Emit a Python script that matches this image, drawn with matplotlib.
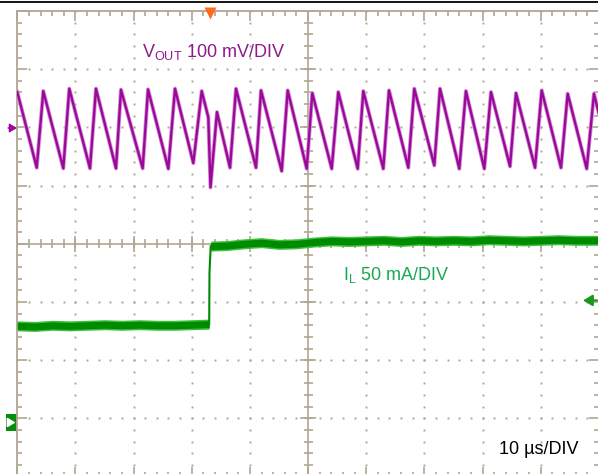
import numpy as np
import matplotlib
matplotlib.use("Agg")
import matplotlib.pyplot as plt
from matplotlib.lines import Line2D
from matplotlib.patches import Rectangle

# scope screen: 10 us/div horizontally, 8 divisions vertically
time_us = (0, 100)
divs = (-4, 4)

# channel 1: VOUT (AC), 100 mV/div, marker 2 div above centre
vout_scale_mv = 100
vout_offset_div = 2.0
vout_t = [0.0, 3.34, 4.47, 7.91, 8.94, 12.50, 13.53, 16.97, 17.83, 21.56,
          22.48, 25.97, 27.12, 30.27, 31.71, 32.85, 33.22, 34.34, 36.58, 37.61,
          41.05, 41.91, 45.47, 46.50, 49.77, 50.73, 54.07, 55.20, 58.54, 59.50,
          62.94, 63.92, 67.24, 68.27, 71.71, 72.69, 76.01, 77.15, 80.31, 81.46,
          84.73, 85.76, 89.03, 90.18, 93.50, 94.65, 97.92, 99.17, 100.0]
vout_mv = [60.7, -69.2, 62.4, -70.4, 66.5, -70.4, 66.5, -70.4, 64.8, -70.4,
           65.3, -71.0, 66.5, -61.3, 62.4, 17.2, -103.1, 26.3, -69.2, 66.5,
           -69.2, 63.6, -75.1, 63.6, -71.0, 58.9, -71.0, 60.7, -71.0, 62.4,
           -71.0, 63.6, -69.2, 66.5, -65.3, 66.5, -71.0, 62.4, -71.0, 60.7,
           -67.0, 58.9, -69.2, 63.6, -69.2, 57.9, -71.0, 57.9, 24.0]

# channel 2: inductor current, 50 mA/div
il_scale_ma = 50
il_offset_div = -3.08
il_t_before = [0, 3, 6, 9, 12, 15, 18, 21, 24, 27, 30, 33.0]
il_ma_before = [83.5, 83, 84, 83.5, 84, 84.5, 84, 84.5, 84, 84, 84.5, 85]
il_t_step = [33.0, 33.05, 33.26]
il_ma_step = [85, 129.5, 152]
il_t_after = [33.26, 36, 39, 42, 45, 48, 51, 54, 57, 60, 63, 66, 69, 72, 75,
              78, 81, 84, 87, 90, 93, 96, 100]
il_ma_after = [152, 152.5, 154, 155, 153.5, 154, 155.5, 156.5, 156, 156.5, 157,
               156, 157, 156.5, 157, 156.5, 157.5, 157, 156.5, 157, 157.5, 157, 157]

trigger_t = 33.2
il_trigger_ma = 105

vout_label = r"V$_{\mathregular{OUT}}$ 100 mV/DIV"
il_label = r"I$_{\mathregular{L}}$ 50 mA/DIV"
time_label = "10 \u00b5s/DIV"

W, H = 598, 474
GRID = "#b0a792"
PURPLE = "#990a99"
GREEN = "#008a00"

plt.rcParams["font.family"] = ["Liberation Sans", "DejaVu Sans"]
fig = plt.figure(figsize=(W / 100, H / 100), dpi=100)

left, right, top, bottom = 17.3, 598.8, 11.0, 476.6
ax = fig.add_axes([left / W, 1 - bottom / H, (right - left) / W, (bottom - top) / H])
ax.set_xlim(*time_us)
ax.set_ylim(*divs)
ax.set_facecolor("white")

for s in ax.spines.values():
    s.set_color(GRID)
    s.set_linewidth(1.3)
ax.set_xticks(np.arange(0, 101, 10))
ax.set_xticks(np.arange(0, 101, 2), minor=True)
ax.set_yticks(np.arange(-4, 4.01, 1))
ax.set_yticks(np.arange(-4, 4.01, 0.2), minor=True)
ax.tick_params(which="both", direction="in", top=True, right=True, color=GRID,
               labelleft=False, labelbottom=False, width=1.2)
ax.tick_params(which="major", length=7.5)
ax.tick_params(which="minor", length=3.8)

# dotted graticule
minor_x = np.arange(0, 101, 2)
minor_y = np.arange(-4, 4.01, 0.2)
for gx in range(10, 100, 10):
    if gx != 50:
        ax.plot(np.full_like(minor_y, gx), minor_y, ls="none", marker="s",
                ms=1.4, mec="none", color=GRID, zorder=1)
for gy in range(-3, 4):
    if gy != 0:
        ax.plot(minor_x, np.full_like(minor_x, gy, dtype=float), ls="none", marker="s",
                ms=1.4, mec="none", color=GRID, zorder=1)

# centre cross with ticks
ax.axhline(0, color=GRID, lw=1.2, zorder=1)
ax.axvline(50, color=GRID, lw=1.2, zorder=1)
px_x = 10 / 58.15   # us per pixel
px_y = 1 / 58.2     # div per pixel
ax.vlines(minor_x, -4.5 * px_y, 4.5 * px_y, color=GRID, lw=1.2, zorder=1)
ax.vlines(np.arange(0, 101, 10), -8 * px_y, 8 * px_y, color=GRID, lw=1.2, zorder=1)
ax.hlines(minor_y, 50 - 4.5 * px_x, 50 + 4.5 * px_x, color=GRID, lw=1.2, zorder=1)
ax.hlines(np.arange(-4, 5, 1), 50 - 8 * px_x, 50 + 8 * px_x, color=GRID, lw=1.2, zorder=1)

# VOUT trace
vy = vout_offset_div + np.array(vout_mv) / vout_scale_mv
ax.plot(vout_t, vy, color="#d890d8", lw=2.9, zorder=3)
ax.plot(vout_t, vy, color=PURPLE, lw=1.7, zorder=4)

# IL trace
def il_div(vals):
    return il_offset_div + np.array(vals) / il_scale_ma

for tt, vv in ((il_t_before, il_ma_before), (il_t_after, il_ma_after)):
    y = il_div(vv)
    ax.fill_between(tt, y - 5 * px_y, y + 5 * px_y, color="#3cc03c", lw=0, zorder=3)
    ax.fill_between(tt, y - 3.5 * px_y, y + 3.5 * px_y, color=GREEN, lw=0, zorder=4)
ax.plot(il_t_step, il_div(il_ma_step), color=GREEN, lw=1.5, zorder=4)

# markers around the screen
def fpt(x, y):
    return (x / W, 1 - y / H)

def arrow(x0, x1, y, color, lw, size):
    ax.annotate("", xy=fpt(x1, y), xytext=fpt(x0, y), xycoords="figure fraction",
                arrowprops=dict(arrowstyle="-|>,head_length=0.5,head_width=0.3",
                                color=color, lw=lw, mutation_scale=size,
                                shrinkA=0, shrinkB=0), zorder=10)

fig.add_artist(Line2D([0, 1], [1 - 1.5 / H] * 2, color="black", lw=1.3))
tx = left + trigger_t / px_x
fig.add_artist(Line2D([fpt(tx, 0)[0]], [fpt(0, 12.5)[1]], marker="v", ms=8.5,
                      color="#ff6a1e", mec="none"))
arrow(8, 17, 128, PURPLE, 1.0, 9)
fig.add_artist(Rectangle(fpt(6, 430.7), 10.8 / W, 16.7 / H, transform=fig.transFigure,
                         color="#0a8a0a", lw=0, zorder=-1))
arrow(8.5, 15.5, 422.5, "white", 1.3, 9)
trig_y = 243.4 - il_div([il_trigger_ma])[0] / px_y
arrow(597, 583, trig_y, "#1a9a1a", 1.6, 11)

# labels
fig.text(*fpt(142, 57.3), vout_label, color="#8c1a8c", fontsize=13, va="baseline")
fig.text(*fpt(343, 280), il_label, color="#1aaa55", fontsize=13, va="baseline")
fig.text(*fpt(499, 454), time_label, color="black", fontsize=13, va="baseline")

fig.savefig("out.png", dpi=100)
